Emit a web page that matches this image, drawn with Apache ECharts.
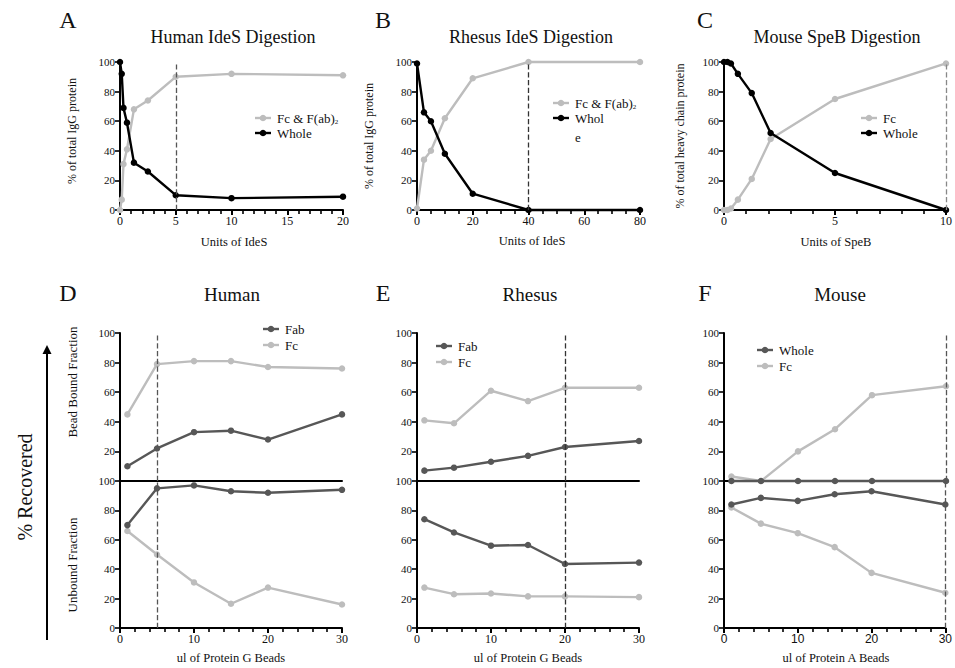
<!DOCTYPE html>
<html>
<head>
<meta charset="utf-8">
<script src="https://cdn.jsdelivr.net/npm/echarts@6/dist/echarts.min.js"></script>
<style>html,body{margin:0;padding:0;background:#fff}#c{width:955px;height:668px}</style>
</head>
<body>
<div id="c"></div>
<script>
// ---------- DATA ----------
const yTicks = [0, 20, 40, 60, 80, 100];
// A: Human IdeS digestion
const A_units = [0, 0.156, 0.3125, 0.625, 1.25, 2.5, 5, 10, 20];
const A_fc = [0, 7, 31, 41, 68, 74, 90, 92, 91];
const A_whole = [100, 92, 69, 59, 32, 26, 10, 8, 9];
// B: Rhesus IdeS digestion
const B_units = [0, 2.5, 5, 10, 20, 40, 80];
const B_fc = [1, 34, 40, 62, 89, 100, 100];
const B_whole = [99, 66, 60, 38, 11, 0, 0];
// C: Mouse SpeB digestion
const C_units = [0, 0.156, 0.3125, 0.625, 1.25, 2.1, 5, 10];
const C_fc = [0, 0, 1, 7, 21, 48, 75, 99];
const C_whole = [100, 100, 99, 92, 79, 52, 25, 0];
// Bottom panels: ul of beads
const beads = [1, 5, 10, 15, 20, 30];
// D: Human (Protein G)
const D_bound_fab = [10, 22, 33, 34, 28, 45];
const D_bound_fc = [45, 79, 81, 81, 77, 76];
const D_unbound_fab = [70, 95, 97, 93, 92, 94];
const D_unbound_fc = [66, 50, 31, 16.5, 27.5, 16];
// E: Rhesus (Protein G)
const E_bound_fab = [7, 9, 13, 17, 23, 27];
const E_bound_fc = [41, 39, 61, 54, 63, 63];
const E_unbound_fab = [74, 65, 56, 56.5, 43.5, 44.5];
const E_unbound_fc = [27.5, 23, 23.5, 21.5, 21.5, 21];
// F: Mouse (Protein A)
const F_bound_whole = [0, 0, 0, 0, 0, 0];
const F_bound_fc = [3, 0, 20, 35, 58, 64];
const F_unbound_whole = [84, 88.5, 86.5, 91, 93, 84];
const F_unbound_fc = [82, 71, 64.5, 55, 37.5, 24];

// ---------- STYLE ----------
const SERIF = 'Liberation Serif';
const SANS = 'Liberation Sans';
const GREY = '#bdbdbd', DARK = '#575757', BLACK = '#000';

const pairs = (xs, ys) => xs.map((x, i) => [x, ys[i]]);

const grids = [
  {left: 120, top: 62, width: 223, height: 148},
  {left: 417, top: 62, width: 223, height: 148},
  {left: 724, top: 62, width: 224, height: 148},
  {left: 120, top: 333, width: 222, height: 148},
  {left: 120, top: 481, width: 222, height: 147},
  {left: 417, top: 333, width: 222, height: 148},
  {left: 417, top: 481, width: 222, height: 147},
  {left: 724, top: 333, width: 222, height: 148},
  {left: 724, top: 481, width: 222, height: 147}
];
const upperGrids = [3, 5, 7];

function xAx(g, max, interval, split, show, font) {
  return {
    type: 'value', gridIndex: g, min: 0, max: max, interval: interval,
    axisLine: {show: true, onZero: false, lineStyle: {color: '#000', width: 2}},
    axisTick: {show: show, length: 5, lineStyle: {color: '#000', width: 2}},
    minorTick: {show: show, splitNumber: split, length: 4, lineStyle: {color: '#000', width: 1.6}},
    splitLine: {show: false},
    axisLabel: {show: show, fontFamily: font || SERIF, fontSize: 12, color: '#111', margin: 5}
  };
}
function yAx(g) {
  return {
    type: 'value', gridIndex: g, min: 0, max: 100, interval: 20,
    axisLine: {show: true, onZero: false, lineStyle: {color: '#000', width: 2}},
    axisTick: {show: true, length: 5, lineStyle: {color: '#000', width: 1.6}},
    splitLine: {show: false},
    axisLabel: {fontFamily: SERIF, fontSize: 11, color: '#111', margin: 5,
                showMinLabel: upperGrids.indexOf(g) < 0}
  };
}
function ser(g, xs, ys, color, z, mark) {
  const s = {
    type: 'line', xAxisIndex: g, yAxisIndex: g, data: pairs(xs, ys),
    symbol: 'circle', symbolSize: 6.5, clip: false, z: z,
    lineStyle: {color: color, width: 2.4}, itemStyle: {color: color},
    animation: false
  };
  if (mark) {
    s.markLine = {
      silent: true, symbol: 'none', label: {show: false}, animation: false,
      lineStyle: {type: 'dashed', color: mark.color, width: 1.3},
      data: [{xAxis: mark.x}]
    };
  }
  return s;
}

const xAxes = [
  xAx(0, 20, 5, 5, true), xAx(1, 80, 20, 4, true), xAx(2, 10, 5, 5, true),
  xAx(3, 30, 10, 5, false), xAx(4, 30, 10, 5, true),
  xAx(5, 30, 10, 5, false), xAx(6, 30, 10, 5, true),
  xAx(7, 30, 10, 5, false), xAx(8, 30, 10, 5, true, SANS)
];
const yAxes = grids.map((g, i) => yAx(i));

const series = [
  ser(0, A_units, A_fc, GREY, 3, {x: 5, color: '#555'}),
  ser(0, A_units, A_whole, BLACK, 4),
  ser(1, B_units, B_fc, GREY, 3, {x: 40, color: '#333'}),
  ser(1, B_units, B_whole, BLACK, 4),
  ser(2, C_units, C_fc, GREY, 3, {x: 10, color: '#888'}),
  ser(2, C_units, C_whole, BLACK, 4),
  ser(3, beads, D_bound_fc, GREY, 3, {x: 5, color: '#555'}),
  ser(3, beads, D_bound_fab, DARK, 4),
  ser(4, beads, D_unbound_fc, GREY, 3, {x: 5, color: '#555'}),
  ser(4, beads, D_unbound_fab, DARK, 4),
  ser(5, beads, E_bound_fc, GREY, 3, {x: 20, color: '#333'}),
  ser(5, beads, E_bound_fab, DARK, 4),
  ser(6, beads, E_unbound_fc, GREY, 3, {x: 20, color: '#333'}),
  ser(6, beads, E_unbound_fab, DARK, 4),
  ser(7, beads, F_bound_fc, GREY, 3, {x: 30, color: '#555'}),
  ser(7, beads, F_bound_whole, DARK, 4),
  ser(8, beads, F_unbound_fc, GREY, 3, {x: 30, color: '#555'}),
  ser(8, beads, F_unbound_whole, DARK, 4)
];

// ---------- TEXT / DECOR ----------
function txt(x, y, text, size, opts) {
  opts = opts || {};
  return {
    type: 'text', x: x, y: y, rotation: opts.rot || 0, z: 100,
    style: {
      text: text, fontSize: size, fontFamily: opts.font || SERIF, fill: opts.fill || '#111',
      textAlign: opts.align || 'center', textVerticalAlign: 'middle',
      fontWeight: opts.weight || 'normal', rich: opts.rich
    }
  };
}
const V = Math.PI / 2;
function legendItem(x1, y, color, label, rich) {
  return [
    {type: 'line', z: 100, shape: {x1: x1, y1: y, x2: x1 + 16, y2: y}, style: {stroke: color, lineWidth: 2.4}},
    {type: 'circle', z: 101, shape: {cx: x1 + 8, cy: y, r: 3.3}, style: {fill: color}},
    txt(x1 + 22, y, label, 13, {align: 'left', rich: rich})
  ];
}
const richSub = {a: {fontSize: 13, fontFamily: SERIF, fill: '#111'}, s: {fontSize: 7, fontFamily: SERIF, fill: '#111', padding: [8, 0, 0, 0]}};

const graphics = [].concat(
  // panel letters
  txt(68, 20, 'A', 24), txt(383, 20, 'B', 24), txt(705, 20, 'C', 24),
  txt(68, 293, 'D', 24), txt(383, 293, 'E', 24), txt(705, 293, 'F', 24),
  // titles
  txt(233, 37, 'Human IdeS Digestion', 18), txt(531, 37, 'Rhesus IdeS Digestion', 18),
  txt(837, 37, 'Mouse SpeB Digestion', 18),
  txt(232, 294, 'Human', 19), txt(530, 294, 'Rhesus', 19), txt(840, 294, 'Mouse', 19),
  // x axis titles
  txt(234, 242, 'Units of IdeS', 12.5), txt(532, 241, 'Units of IdeS', 12.5), txt(836, 242, 'Units of SpeB', 12.5),
  txt(231, 658, 'ul of Protein G Beads', 12.5), txt(528, 658, 'ul of Protein G Beads', 12.5),
  txt(836, 658, 'ul of Protein A Beads', 12.5),
  // y axis titles
  txt(72, 131, '% of total IgG protein', 12, {rot: V}),
  txt(369, 136, '% of total IgG protein', 12, {rot: V}),
  txt(680, 136, '% of total heavy chain protein', 12, {rot: V}),
  txt(72, 382, 'Bead Bound Fraction', 13, {rot: V}),
  txt(72, 565, 'Unbound Fraction', 13, {rot: V}),
  txt(25, 487, '% Recovered', 20, {rot: V}),
  // arrow
  [{type: 'line', z: 100, shape: {x1: 47, y1: 640, x2: 47, y2: 352}, style: {stroke: '#000', lineWidth: 2}},
   {type: 'polygon', z: 100, shape: {points: [[47, 345], [42.5, 354], [51.5, 354]]}, style: {fill: '#000'}}],
  // legends
  legendItem(255, 118, GREY, '{a|Fc & F(ab)}{s|2}', richSub),
  legendItem(255, 133, BLACK, 'Whole'),
  legendItem(553, 103, GREY, '{a|Fc & F(ab)}{s|2}', richSub),
  legendItem(553, 118, BLACK, 'Whol'),
  txt(575, 137, 'e', 13, {align: 'left'}),
  legendItem(861, 118, GREY, 'Fc'),
  legendItem(861, 133, BLACK, 'Whole'),
  legendItem(263, 329, DARK, 'Fab'),
  legendItem(263, 345, GREY, 'Fc'),
  legendItem(436, 346, DARK, 'Fab'),
  legendItem(436, 362, GREY, 'Fc'),
  legendItem(757, 350, DARK, 'Whole'),
  legendItem(757, 366, GREY, 'Fc')
);

const chart = echarts.init(document.getElementById('c'), null, {renderer: 'svg'});
chart.setOption({
  animation: false,
  backgroundColor: '#fff',
  grid: grids,
  xAxis: xAxes,
  yAxis: yAxes,
  series: series,
  graphic: graphics
});
</script>
</body>
</html>
